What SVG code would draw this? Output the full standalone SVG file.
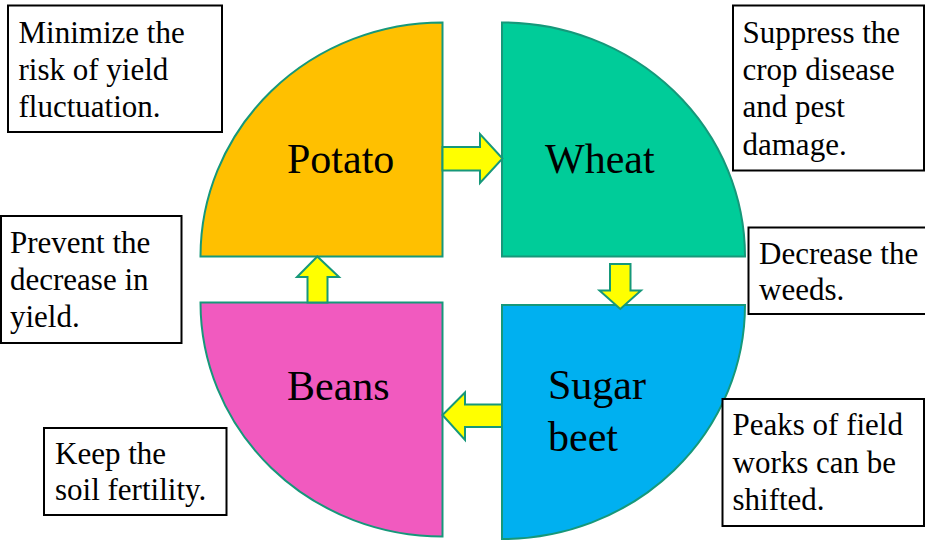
<svg xmlns="http://www.w3.org/2000/svg" width="925" height="541" viewBox="0 0 925 541">
<style>
.q{stroke:#16987a;stroke-width:2}
.arr{fill:#ffff00;stroke:#16987a;stroke-width:2;stroke-linejoin:miter}
.box{fill:#fff;stroke:#000;stroke-width:2}
</style>
<rect width="925" height="541" fill="#fff"/>
<g font-family="Liberation Serif, serif" fill="#000">
<g id="potato">
<path class="q" fill="#ffc000" d="M442.5,256.5 L442.5,22.5 A242,234 0 0 0 200.5,256.5 Z"/>
<text font-size="42" x="287" y="172.5">Potato</text>
</g>
<g id="wheat">
<path class="q" fill="#00cc99" d="M502,256.5 L502,22.5 A243,234 0 0 1 745,256.5 Z"/>
<text font-size="42" x="545" y="172.5">Wheat</text>
</g>
<g id="sugarbeet">
<path class="q" fill="#00b0f0" d="M502,305 L745,305 A243,234 0 0 1 502,539 Z"/>
<text font-size="42" x="548" y="399">Sugar</text>
<text font-size="42" x="548" y="450.5">beet</text>
</g>
<g id="beans">
<path class="q" fill="#f15abf" d="M442.5,302.5 L200.5,302.5 A242,234 0 0 0 442.5,536.5 Z"/>
<text font-size="42" x="287" y="400">Beans</text>
</g>
<g id="connectors">
<path class="arr" d="M442.5,147 L480,147 L480,134 L502.5,158.5 L480,183 L480,170.5 L442.5,170.5 Z"/>
<path class="arr" d="M610,264 L630.5,264 L630.5,290.5 L641,290.5 L620.3,309 L599.5,290.5 L610,290.5 Z"/>
<path class="arr" d="M502,404.5 L465,404.5 L465,392.5 L442.5,415 L465,440 L465,427 L502,427 Z"/>
<path class="arr" d="M307.5,302.5 L307.5,277 L297,277 L317.3,256.5 L339,277 L327.5,277 L327.5,302.5 Z"/>
</g>
<g id="note-potato" font-size="31">
<rect class="box" x="8" y="5.5" width="214" height="126.5"/>
<text x="18.5" y="42.5">Minimize the</text>
<text x="18.5" y="79.5">risk of yield</text>
<text x="18.5" y="116.5">fluctuation.</text>
</g>
<g id="note-wheat" font-size="31">
<rect class="box" x="733" y="5.5" width="191" height="165"/>
<text x="742.5" y="42.5">Suppress the</text>
<text x="742.5" y="79.5">crop disease</text>
<text x="742.5" y="116.5">and pest</text>
<text x="742.5" y="155">damage.</text>
</g>
<g id="note-weeds" font-size="31">
<rect class="box" x="748.5" y="227.5" width="190" height="86.5"/>
<text x="759" y="263.5">Decrease the</text>
<text x="759" y="300">weeds.</text>
</g>
<g id="note-prevent" font-size="31">
<rect class="box" x="1" y="216" width="180.5" height="127"/>
<text x="10" y="252.5">Prevent the</text>
<text x="10" y="289.5">decrease in</text>
<text x="10" y="326.5">yield.</text>
</g>
<g id="note-keep" font-size="31">
<rect class="box" x="44" y="428" width="182.5" height="87"/>
<text x="55" y="464">Keep the</text>
<text x="55" y="500">soil fertility.</text>
</g>
<g id="note-peaks" font-size="31">
<rect class="box" x="722.5" y="399" width="201.5" height="127"/>
<text x="732.5" y="435">Peaks of field</text>
<text x="732.5" y="473">works can be</text>
<text x="732.5" y="510">shifted.</text>
</g>
</g>
</svg>
